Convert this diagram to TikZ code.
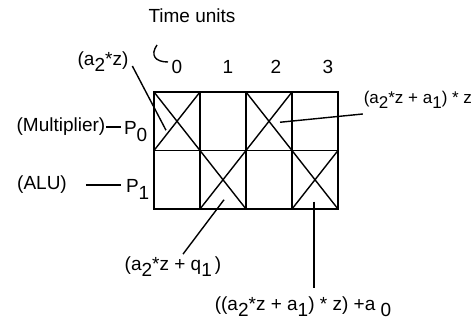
\documentclass[tikz,border=0pt]{standalone}
\usepackage{fontspec}
\setmainfont{Liberation Sans}
\usetikzlibrary{positioning,calc}
\newcommand{\lo}[1]{\raisebox{-0.6ex}{#1}}

\begin{document}
\begin{tikzpicture}[x=1pt,y=-1pt,
    every node/.style={font=\fontsize{19}{21}\selectfont, inner sep=0pt, outer sep=0pt},
    cell/.style={draw, line width=1.6pt, minimum width=46pt, minimum height=58.5pt},
    xcell/.style={cell, path picture={
        \draw[line width=1.4pt] (path picture bounding box.north west) -- (path picture bounding box.south east)
          (path picture bounding box.north east) -- (path picture bounding box.south west);}},
    lead/.style={line width=1.4pt}
  ]
  \useasboundingbox (0,0) rectangle (474,328);
  % schedule grid
  \node[xcell] (c00) at (177,121.25) {};
  \node[cell, right=0pt of c00] (c10) {};
  \node[xcell, right=0pt of c10] (c20) {};
  \node[cell, right=0pt of c20] (c30) {};
  \node[cell, below=0pt of c00] (c01) {};
  \node[xcell, right=0pt of c01] (c11) {};
  \node[cell, right=0pt of c11] (c21) {};
  \node[xcell, right=0pt of c21] (c31) {};
  % time axis
  \node (time) at (192,16) {Time units};
  \node (t0) at (177,67) {0};
  \node (t1) at (228,67) {1};
  \node (t2) at (276,67) {2};
  \node (t3) at (328,67) {3};
  \coordinate (hk) at (157,45);
  \coordinate (hkend) at (168,62);
  \draw[lead] (hk) .. controls (150,55) and (155,62) .. (hkend);
  % processors
  \node (mul) at (61,127) {(Multiplier)};
  \node[anchor=base west] (p0) at (124,135) {P\lo{0}};
  \node (alu) at (42,185) {(ALU)};
  \node[anchor=base west] (p1) at (126,193) {P\lo{1}};
  \draw[lead] ($(mul.east)+(1,0)$) -- ($(mul.east -| p0.west)+(-3,0)$);
  \draw[lead] ($(alu.east)+(19,0)$) -- ($(alu.east -| p1.west)+(-5,0)$);
  % results
  \node (az) at (103,62) {(a\lo{2}*z)};
  \node[anchor=east, font=\fontsize{17}{19}\selectfont] (r1) at (472,100) {(a\lo{2}*z + a\lo{1}) * z};
  \node (b1) at (173,267) {(a\lo{2}*z + q\lo{1}\,)};
  \node (b2) at (303,307) {((a\lo{2}*z + a\lo{1}) * z) +a \lo{0}};
  \draw[lead] ($(az.east)+(4,4)$) -- ($(c00.center)+(-11,9)$);
  \draw[lead] ($(c20.center)+(11,1)$) -- ($(r1.west)+(-1,14)$);
  \draw[lead] ($(b1.north)+(10,-3)$) -- ($(c11.center)+(1,20)$);
  \draw[lead] ($(c31.center)+(-1,22)$) -- ($(c31.center)+(-1,108)$);
\end{tikzpicture}
\end{document}
